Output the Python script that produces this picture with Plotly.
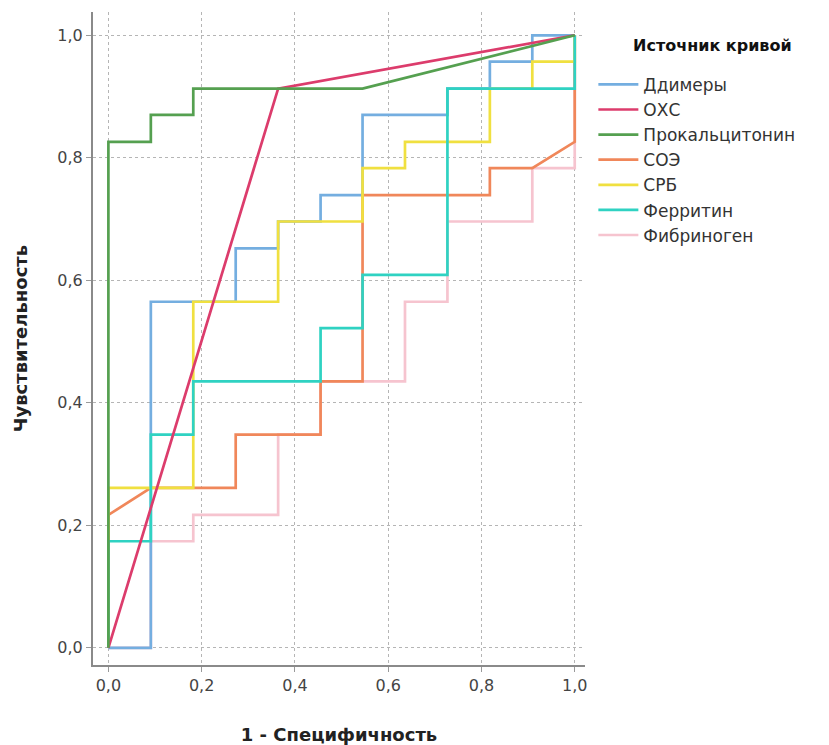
import plotly.graph_objects as go

# ---- data (1 - specificity, sensitivity) ----
series_names = ["Ддимеры", "ОХС", "Прокальцитонин", "СОЭ", "СРБ", "Ферритин", "Фибриноген"]

ddimer_x = [0, 0.091, 0.091, 0.273, 0.273, 0.364, 0.364, 0.455, 0.455, 0.545, 0.545, 0.727, 0.727, 0.818, 0.818, 0.909, 0.909, 1]
ddimer_y = [0, 0, 0.565, 0.565, 0.652, 0.652, 0.696, 0.696, 0.739, 0.739, 0.870, 0.870, 0.913, 0.913, 0.957, 0.957, 1, 1]

oxc_x = [0, 0.364, 1]
oxc_y = [0, 0.913, 1]

procalc_x = [0, 0, 0.091, 0.091, 0.182, 0.182, 0.545, 1]
procalc_y = [0, 0.826, 0.826, 0.870, 0.870, 0.913, 0.913, 1]

soe_x = [0, 0, 0.091, 0.273, 0.273, 0.455, 0.455, 0.545, 0.545, 0.818, 0.818, 0.909, 1, 1]
soe_y = [0, 0.217, 0.261, 0.261, 0.348, 0.348, 0.435, 0.435, 0.739, 0.739, 0.783, 0.783, 0.826, 1]

srb_x = [0, 0, 0.182, 0.182, 0.364, 0.364, 0.545, 0.545, 0.636, 0.636, 0.818, 0.818, 0.909, 0.909, 1, 1]
srb_y = [0, 0.261, 0.261, 0.565, 0.565, 0.696, 0.696, 0.783, 0.783, 0.826, 0.826, 0.913, 0.913, 0.957, 0.957, 1]

ferr_x = [0, 0, 0.091, 0.091, 0.182, 0.182, 0.455, 0.455, 0.545, 0.545, 0.727, 0.727, 1, 1]
ferr_y = [0, 0.174, 0.174, 0.348, 0.348, 0.435, 0.435, 0.522, 0.522, 0.609, 0.609, 0.913, 0.913, 1]

fib_x = [0, 0.091, 0.091, 0.182, 0.182, 0.364, 0.364, 0.455, 0.455, 0.636, 0.636, 0.727, 0.727, 0.909, 0.909, 1, 1]
fib_y = [0, 0, 0.174, 0.174, 0.217, 0.217, 0.348, 0.348, 0.435, 0.435, 0.565, 0.565, 0.696, 0.696, 0.783, 0.783, 1]

tick_vals = [0, 0.2, 0.4, 0.6, 0.8, 1.0]
tick_text = ["0,0", "0,2", "0,4", "0,6", "0,8", "1,0"]

legend_title = "Источник кривой"

colors = ["#74aee0", "#dc3c6c", "#55a050", "#f0875a", "#f0e040", "#2fd2c2", "#f6c4cf"]

xs = [ddimer_x, oxc_x, procalc_x, soe_x, srb_x, ferr_x, fib_x]
ys = [ddimer_y, oxc_y, procalc_y, soe_y, srb_y, ferr_y, fib_y]

FONT = "DejaVu Sans, Verdana, sans-serif"

fig = go.Figure()
draw_order = [6, 0, 3, 4, 5, 1, 2]
for k in draw_order:
    fig.add_trace(go.Scatter(
        x=xs[k], y=ys[k], mode="lines", name=series_names[k],
        line=dict(color=colors[k], width=2.7), legendrank=k + 1,
    ))

axis_common = dict(
    tickvals=tick_vals, ticktext=tick_text,
    showgrid=True, gridcolor="#b5b5b5", griddash="dot", gridwidth=1,
    zeroline=False, showline=True, linecolor="#8a8a8a", linewidth=2,
    ticks="outside", ticklen=5, tickcolor="#9a9a9a", automargin=False,
    tickfont=dict(family=FONT, size=16, color="#444"),
)

fig.update_layout(
    width=821, height=737,
    paper_bgcolor="white", plot_bgcolor="white",
    margin=dict(l=85, r=244, t=4, b=80),
    xaxis=dict(range=[-0.033, 1.022], title=dict(text="<b>1 - Специфичность</b>", standoff=34,
               font=dict(family=FONT, size=18, color="#222")), **axis_common),
    yaxis=dict(range=[-0.028, 1.038], title=dict(text="<b>Чувствительность</b>", standoff=25,
               font=dict(family=FONT, size=18, color="#222")), **axis_common),
    legend=dict(
        x=1.017, y=0.916, xanchor="left", yanchor="top",
        font=dict(family=FONT, size=17, color="#333"),
        tracegroupgap=0, itemwidth=40,
    ),
    showlegend=True,
    annotations=[dict(
        text="<b>" + legend_title + "</b>", xref="paper", yref="paper",
        x=1.26, y=0.949, xanchor="center", yanchor="middle", showarrow=False,
        font=dict(family=FONT, size=16, color="#111"),
    )],
)

fig.write_html("out.html")
